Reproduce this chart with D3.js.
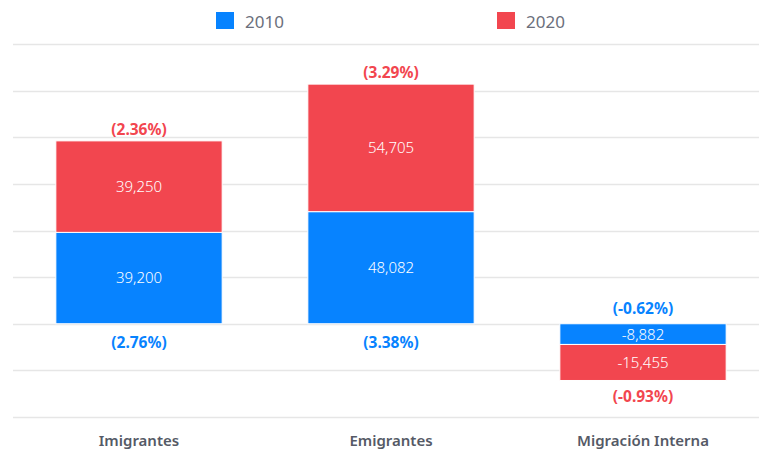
<!DOCTYPE html>
<html>
<head>
<meta charset="utf-8">
<script src="https://cdn.jsdelivr.net/npm/d3@7"></script>
<style>
  html, body { margin: 0; padding: 0; background: #fff; }
  svg { display: block; font-family: "Noto Sans", Lato, sans-serif; }
</style>
</head>
<body>
<svg id="chart" width="759" height="451"></svg>
<script>
const categories = ["Imigrantes", "Emigrantes", "Migración Interna"];
const seriesNames = ["2010", "2020"];
const values2010 = [39200, 48082, -8882];
const values2020 = [39250, 54705, -15455];
const pct2010 = ["(2.76%)", "(3.38%)", "(-0.62%)"];
const pct2020 = ["(2.36%)", "(3.29%)", "(-0.93%)"];
const gridTicks = [-40000, -20000, 0, 20000, 40000, 60000, 80000, 100000, 120000];
const colors = ["#0783FF", "#F2464F"];

const svg = d3.select("#chart");
const x = d3.scaleBand().domain(categories).range([13, 769]).paddingInner(0.34).paddingOuter(0.17);
const y = d3.scaleLinear().domain([-40000, 120000]).range([417, 44]);
const fmt = v => d3.format(",")(v).replace("\u2212", "-");

// gridlines
svg.append("g").selectAll("line").data(gridTicks).join("line")
  .attr("x1", 13).attr("x2", 759)
  .attr("y1", d => Math.round(y(d)) + 0.5).attr("y2", d => Math.round(y(d)) + 0.5)
  .attr("stroke", "#e6e6e6").attr("stroke-width", 1.5);

// stacked data (positive & negative stacking)
const rows = categories.map((c, i) => ({ cat: c, s2010: values2010[i], s2020: values2020[i] }));
const stack = d3.stack().keys(["s2010", "s2020"]).offset(d3.stackOffsetDiverging);
const stacked = stack(rows);

const gBars = svg.append("g");
stacked.forEach((layer, si) => {
  gBars.selectAll(null).data(layer).join("rect")
    .attr("x", d => x(d.data.cat))
    .attr("width", x.bandwidth())
    .attr("y", d => y(Math.max(d[0], d[1])))
    .attr("height", d => Math.abs(y(d[0]) - y(d[1])))
    .attr("fill", colors[si])
    .attr("stroke", "#fff").attr("stroke-width", 1);
  gBars.selectAll(null).data(layer).join("text")
    .attr("x", d => x(d.data.cat) + x.bandwidth() / 2)
    .attr("y", d => (y(d[0]) + y(d[1])) / 2)
    .attr("dy", "0.36em")
    .attr("text-anchor", "middle")
    .attr("fill", "#fff")
    .attr("font-size", 15)
    .attr("font-weight", 300)
    .text(d => fmt(d.data[layer.key]));
});

// percent labels
const gPct = svg.append("g").attr("font-weight", 700).attr("font-size", 15.5).attr("text-anchor", "middle");
rows.forEach((r, i) => {
  const cx = x(r.cat) + x.bandwidth() / 2;
  if (r.s2010 >= 0) {
    gPct.append("text").attr("x", cx).attr("y", y(0) + 24).attr("fill", colors[0]).text(pct2010[i]);
    gPct.append("text").attr("x", cx).attr("y", y(r.s2010 + r.s2020) - 6).attr("fill", colors[1]).text(pct2020[i]);
  } else {
    gPct.append("text").attr("x", cx).attr("y", y(0) - 10).attr("fill", colors[0]).text(pct2010[i]);
    gPct.append("text").attr("x", cx).attr("y", y(r.s2010 + r.s2020) + 22).attr("fill", colors[1]).text(pct2020[i]);
  }
});

// x axis labels
svg.append("g").selectAll("text").data(categories).join("text")
  .attr("x", d => x(d) + x.bandwidth() / 2)
  .attr("y", 446)
  .attr("text-anchor", "middle")
  .attr("fill", "#555a66")
  .attr("font-size", 15)
  .attr("font-weight", 600)
  .text(d => d);

// legend
const legendX = [216, 497];
const lg = svg.append("g");
seriesNames.forEach((n, i) => {
  lg.append("rect").attr("x", legendX[i]).attr("y", 12).attr("width", 18).attr("height", 17)
    .attr("fill", colors[i]);
  lg.append("text").attr("x", legendX[i] + 29).attr("y", 28)
    .attr("fill", "#6b6f7c").attr("font-size", 17).text(n);
});
</script>
</body>
</html>
